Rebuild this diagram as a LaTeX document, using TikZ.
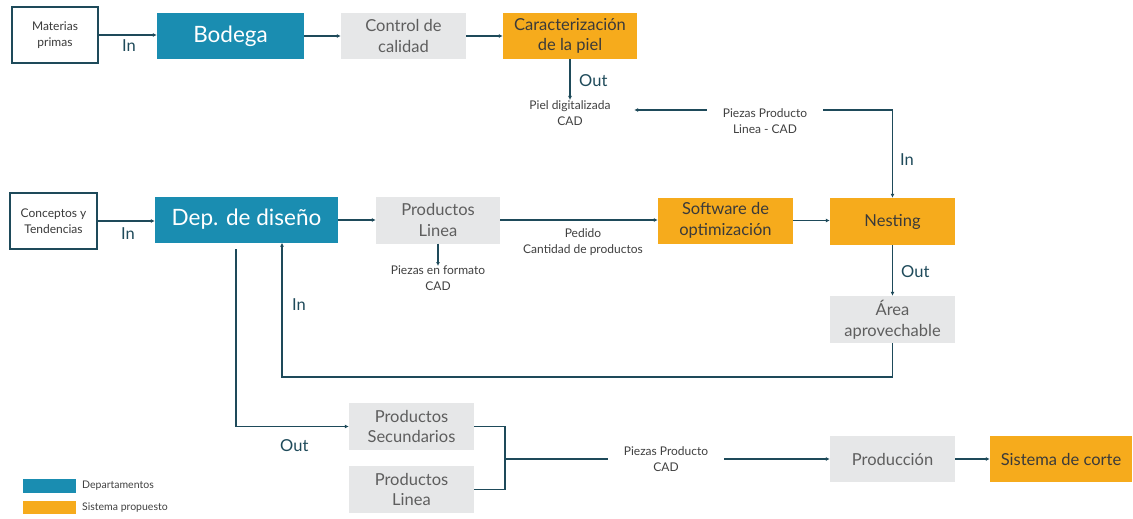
\documentclass[tikz,border=0pt]{standalone}
\usepackage{fontspec}
\setmainfont{Lato}
\usetikzlibrary{arrows.meta}
\definecolor{depc}{HTML}{1A8DB1}
\definecolor{sisc}{HTML}{F6AB1C}
\definecolor{gboxc}{HTML}{E6E7E8}
\definecolor{lnc}{HTML}{1E4A5A}
\definecolor{gtxtc}{HTML}{5E5E5E}
\definecolor{otxtc}{HTML}{3A3A3A}
\definecolor{stxtc}{HTML}{404040}
\newcommand\fsz[2]{\fontsize{#1}{#2}\selectfont}
\begin{document}
\begin{tikzpicture}[x=1pt,y=-1pt,
 base/.style={inner sep=0pt, align=center},
 depbox/.style={base, fill=depc, text=white, font=\fsz{22.5}{26}},
 greybox/.style={base, fill=gboxc, text=gtxtc, font=\fsz{16.5}{20.7}},
 orbox/.style={base, fill=sisc, text=otxtc, font=\fsz{16.5}{20.7}},
 inbox/.style={base, draw=lnc, line width=2pt, fill=white, text=otxtc, font=\fsz{12}{15.5}},
 small/.style={base, text=stxtc, font=\fsz{12}{16}},
 lbl/.style={base, text=lnc, font=\fsz{16.5}{20}, anchor=west},
 legtxt/.style={base, text=stxtc, font=\fsz{10.5}{12}, anchor=west},
 line/.style={draw=lnc, line width=1.8pt},
 arr/.style={line, -{Latex[length=4pt,width=4pt]}},
]
\fill[white] (0,0) rectangle (1133,519);
\useasboundingbox (0,0) rectangle (1133,519);

% row 1
\node[inbox, minimum width=86pt, minimum height=56pt] (mp) at (55,35) {Materias\\primas};
\node[depbox, minimum width=147pt, minimum height=46pt] (bod) at (230.5,36) {Bodega};
\node[greybox, minimum width=125pt, minimum height=46pt] (cc) at (403.5,36) {Control de\\calidad};
\node[orbox, minimum width=134pt, minimum height=46pt] (car) at (570,36) {Caracterización\\de la piel};
\node[small, anchor=north, minimum width=128pt] (piel) at (570,100) {Piel digitalizada\\CAD};
\node[small, fill=white, minimum width=116pt, minimum height=40pt] (ppl) at (765,121) {Piezas Producto\\Linea - CAD};

\node[lbl] (in1) at (122,46) {In};
\node[lbl] (out1) at (579,81) {Out};
\node[lbl] (in2) at (900,160) {In};

% row 2
\node[inbox, minimum width=87pt, minimum height=56pt] (cyt) at (53.5,221) {Conceptos y\\Tendencias};
\node[depbox, minimum width=183pt, minimum height=46pt] (dep) at (246.5,219.5) {Dep. de diseño};
\node[greybox, minimum width=124pt, minimum height=47pt] (pl1) at (438,220) {Productos\\Linea};
\node[small, anchor=north] (pfc) at (438,266) {Piezas en formato\\CAD};
\node[small] (ped) at (583,242) {Pedido\\Cantidad de productos};
\node[orbox, minimum width=135pt, minimum height=46pt] (soft) at (725.5,220.5) {Software de\\optimización};
\node[orbox, minimum width=125pt, minimum height=47pt] (nest) at (892.5,221.5) {Nesting};
\node[greybox, minimum width=125pt, minimum height=47pt] (area) at (892.5,319.5) {Área\\aprovechable};

\node[lbl] (in3) at (121,234) {In};
\node[lbl] (out2) at (901,272) {Out};
\node[lbl] (in4) at (292,305) {In};

% row 3
\node[greybox, minimum width=125pt, minimum height=47pt] (ps) at (411.5,426.5) {Productos\\Secundarios};
\node[greybox, minimum width=125pt, minimum height=47pt] (pl2) at (411.5,489.5) {Productos\\Linea};
\node[small, fill=white, minimum width=116pt, minimum height=40pt] (pcad) at (666,459) {Piezas Producto\\CAD};
\node[greybox, minimum width=125pt, minimum height=46pt] (prod) at (892.5,459) {Producción};
\node[orbox, minimum width=142pt, minimum height=46pt] (sis) at (1061,459) {Sistema de corte};
\node[lbl] (out3) at (280,446) {Out};

% legend
\node[base, fill=depc, minimum width=53.5pt, minimum height=13.7pt] (lg1) at (49.25,485.85) {};
\node[base, fill=sisc, minimum width=53.5pt, minimum height=13.3pt] (lg2) at (49.25,507.35) {};
\node[legtxt] (lt1) at (82,486) {Departamentos};
\node[legtxt] (lt2) at (82,507.5) {Sistema propuesto};

% coordinates
\coordinate (yl) at (0,110);
\coordinate (fb) at (282,376.7);
\coordinate (o1) at (235.7,249);
\coordinate (jn) at (504.6,459);

% connectors
\draw[arr] (mp.east) -- (mp.east -| bod.west);
\draw[arr] (bod.east) -- (bod.east -| cc.west);
\draw[arr] (cc.east) -- (cc.east -| car.west);
\draw[arr] (car.south) -- (piel.north);
\draw[arr] (ppl.west |- yl) -- (piel.east |- yl);
\draw[arr] (ppl.east |- yl) -| (nest.north);

\draw[arr] (cyt.east) -- (cyt.east -| dep.west);
\draw[arr] (dep.east |- pl1.west) -- (pl1.west);
\draw[arr] (pl1.east) -- (pl1.east -| soft.west);
\draw[arr] (pl1.south) -- (pfc.north);
\draw[arr] (soft.east) -- (soft.east -| nest.west);
\draw[arr] (nest.south) -- (area.north);
\draw[arr] (area.south) |- (fb) -- (fb |- dep.south);

\draw[arr] (o1) |- (ps.west);
\draw[line] (ps.east) -| (jn |- pl2.east) -- (pl2.east);
\draw[line] (jn) -- (pcad.west);
\draw[arr] (pcad.east) -- (prod.west);
\draw[arr] (prod.east) -- (sis.west);
\end{tikzpicture}
\end{document}
